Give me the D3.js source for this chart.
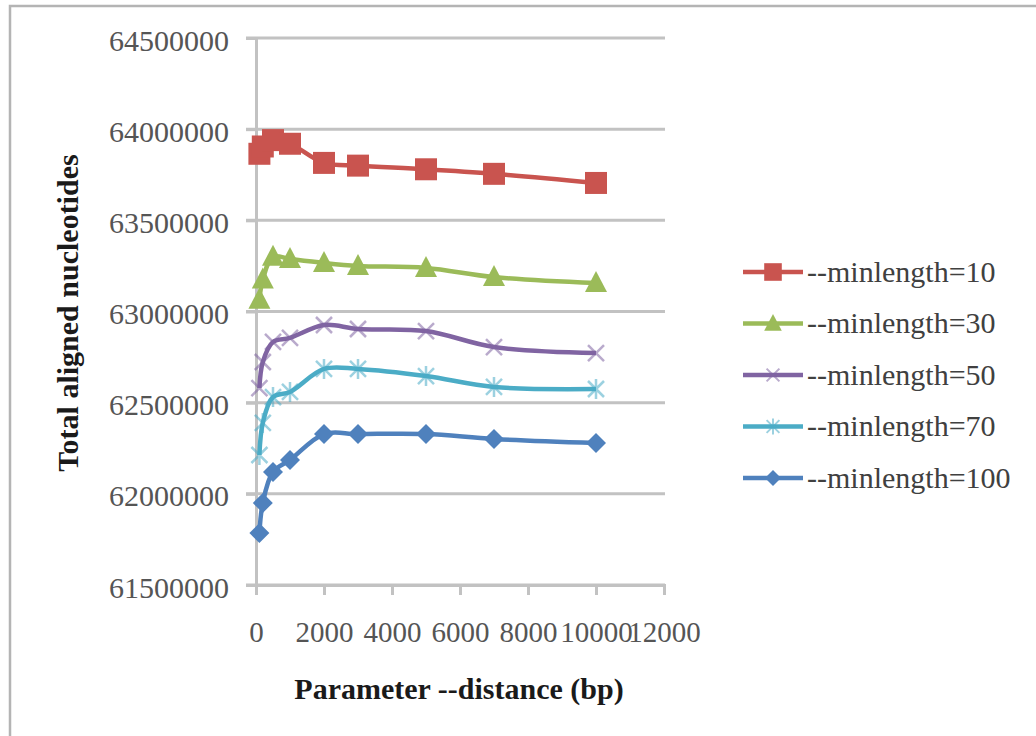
<!DOCTYPE html>
<html lang="en">
<head>
<meta charset="UTF-8">
<title>Total aligned nucleotides vs --distance</title>
<script src="https://d3js.org/d3.v7.min.js"></script>
<style>
    body { margin: 0; background: #fff; }
    svg { display: block; }
    text { font-family: 'Liberation Serif', 'DejaVu Serif', serif; }
</style>
</head>
<body>
<div id="chart"></div>
<script>
    // values
    const distances = [100, 200, 500, 1000, 2000, 3000, 5000, 7000, 10000];
    const seriesNames = ["--minlength=10", "--minlength=30", "--minlength=50", "--minlength=70", "--minlength=100"];
    const ml10  = [63865000, 63905000, 63940000, 63920000, 63815000, 63800000, 63780000, 63755000, 63705000];
    const ml30  = [63065000, 63175000, 63300000, 63288000, 63266000, 63250000, 63239000, 63189000, 63156000];
    const ml50  = [62580000, 62723000, 62833000, 62855000, 62926000, 62904000, 62893000, 62805000, 62772000];
    const ml70  = [62213000, 62389000, 62531000, 62559000, 62685000, 62685000, 62646000, 62586000, 62575000];
    const ml100 = [61785000, 61950000, 62120000, 62186000, 62328000, 62328000, 62328000, 62301000, 62279000];
    const yTicks = [61500000, 62000000, 62500000, 63000000, 63500000, 64000000, 64500000];
    const xTicks = [0, 2000, 4000, 6000, 8000, 10000, 12000];

    const colors = ["#C9544F", "#9BBB59", "#8064A2", "#4BACC6", "#4F81BD"];
    const markers = ["square", "triangle", "x", "star", "diamond"];
    const allSeries = [ml10, ml30, ml50, ml70, ml100];

    const width = 1036, height = 736;
    const svg = d3.select("#chart").append("svg")
        .attr("width", width)
        .attr("height", height);

    // outer chart frame (only top/left edges are inside the picture)
    svg.append("rect")
        .attr("x", 10).attr("y", 6)
        .attr("width", width + 20).attr("height", height + 20)
        .attr("fill", "none")
        .attr("stroke", "#b4b4b4")
        .attr("stroke-width", 2.5);

    const x = d3.scaleLinear().domain([0, 12000]).range([256, 664]);
    const y = d3.scaleLinear().domain([61500000, 64500000]).range([585, 38]);

    // gridlines
    svg.append("g").selectAll("line")
        .data(yTicks)
        .join("line")
        .attr("x1", x(0) - 10).attr("x2", x(12000) + 1)
        .attr("y1", d => y(d)).attr("y2", d => y(d))
        .attr("stroke", "#c2c2c2")
        .attr("stroke-width", 3);

    // y axis
    const yAxis = d3.axisLeft(y).tickValues(yTicks).tickSize(10).tickPadding(17)
        .tickFormat(d3.format("d"));
    const gy = svg.append("g").attr("transform", `translate(${x(0)},0)`).call(yAxis);
    gy.select(".domain").attr("stroke", "#c2c2c2").attr("stroke-width", 3);
    gy.selectAll(".tick line").attr("stroke", "#c2c2c2").attr("stroke-width", 3);
    gy.selectAll(".tick text")
        .attr("fill", "#555555")
        .attr("font-size", 30)
        .attr("dy", "0.4em")
        .style("font-family", "'Liberation Serif', serif");

    // x axis
    const xAxis = d3.axisBottom(x).tickValues(xTicks).tickSize(10).tickPadding(26)
        .tickFormat(d3.format("d"));
    const gx = svg.append("g").attr("transform", `translate(0,${y(61500000)})`).call(xAxis);
    gx.select(".domain").attr("stroke", "#c2c2c2").attr("stroke-width", 3);
    gx.selectAll(".tick line").attr("stroke", "#c2c2c2").attr("stroke-width", 3);
    gx.selectAll(".tick text")
        .attr("fill", "#555555")
        .attr("font-size", 29)
        .style("font-family", "'Liberation Serif', serif");

    // axis titles
    svg.append("text")
        .attr("transform", "translate(78,313) rotate(-90)")
        .attr("text-anchor", "middle")
        .attr("font-size", 30)
        .attr("font-weight", "bold")
        .attr("fill", "#1a1a1a")
        .text("Total aligned nucleotides");

    svg.append("text")
        .attr("x", 459).attr("y", 699)
        .attr("text-anchor", "middle")
        .attr("font-size", 30)
        .attr("font-weight", "bold")
        .attr("fill", "#1a1a1a")
        .text("Parameter --distance (bp)");

    // marker drawing
    function markerPath(kind) {
        const p = d3.path();
        if (kind === "square") {
            p.rect(-11, -11, 22, 22);
        } else if (kind === "triangle") {
            p.moveTo(0, -12); p.lineTo(11, 9); p.lineTo(-11, 9); p.closePath();
        } else if (kind === "diamond") {
            p.moveTo(0, -10); p.lineTo(10, 0); p.lineTo(0, 10); p.lineTo(-10, 0); p.closePath();
        } else if (kind === "x") {
            p.moveTo(-8, -8); p.lineTo(8, 8); p.moveTo(8, -8); p.lineTo(-8, 8);
        } else if (kind === "star") {
            p.moveTo(-8, -8); p.lineTo(8, 8); p.moveTo(8, -8); p.lineTo(-8, 8);
            p.moveTo(0, -10); p.lineTo(0, 10);
        }
        return p.toString();
    }
    function styleMarker(sel, i) {
        const k = markers[i];
        if (k === "x" || k === "star") {
            sel.attr("fill", "none")
                .attr("stroke", colors[i])
                .attr("stroke-opacity", 0.55)
                .attr("stroke-width", 2.5);
        } else {
            sel.attr("fill", colors[i]).attr("stroke", "none");
        }
    }

    const line = d3.line()
        .x(d => x(d[0]))
        .y(d => y(d[1]))
        .curve(d3.curveCatmullRom.alpha(0.5));

    allSeries.forEach((vals, i) => {
        const pts = distances.map((dd, j) => [dd, vals[j]]);
        const g = svg.append("g");
        g.append("path")
            .datum(pts)
            .attr("d", line)
            .attr("fill", "none")
            .attr("stroke", colors[i])
            .attr("stroke-width", 4.5)
            .attr("stroke-linejoin", "round");
        g.selectAll("path.mk")
            .data(pts)
            .join("path")
            .attr("class", "mk")
            .attr("transform", d => `translate(${x(d[0])},${y(d[1])})`)
            .attr("d", markerPath(markers[i]))
            .call(styleMarker, i);
    });

    // legend
    const legend = svg.append("g").attr("transform", "translate(743,272)");
    seriesNames.forEach((name, i) => {
        const row = legend.append("g").attr("transform", `translate(0,${i * 51.5})`);
        row.append("line")
            .attr("x1", 0).attr("x2", 60)
            .attr("stroke", colors[i])
            .attr("stroke-width", 4.5);
        row.append("path")
            .attr("transform", "translate(30,0) scale(0.8)")
            .attr("d", markerPath(markers[i]))
            .call(styleMarker, i);
        row.append("text")
            .attr("x", 64).attr("y", 0)
            .attr("dy", "0.33em")
            .attr("font-size", 30)
            .attr("fill", "#404040")
            .text(name);
    });
</script>
</body>
</html>
